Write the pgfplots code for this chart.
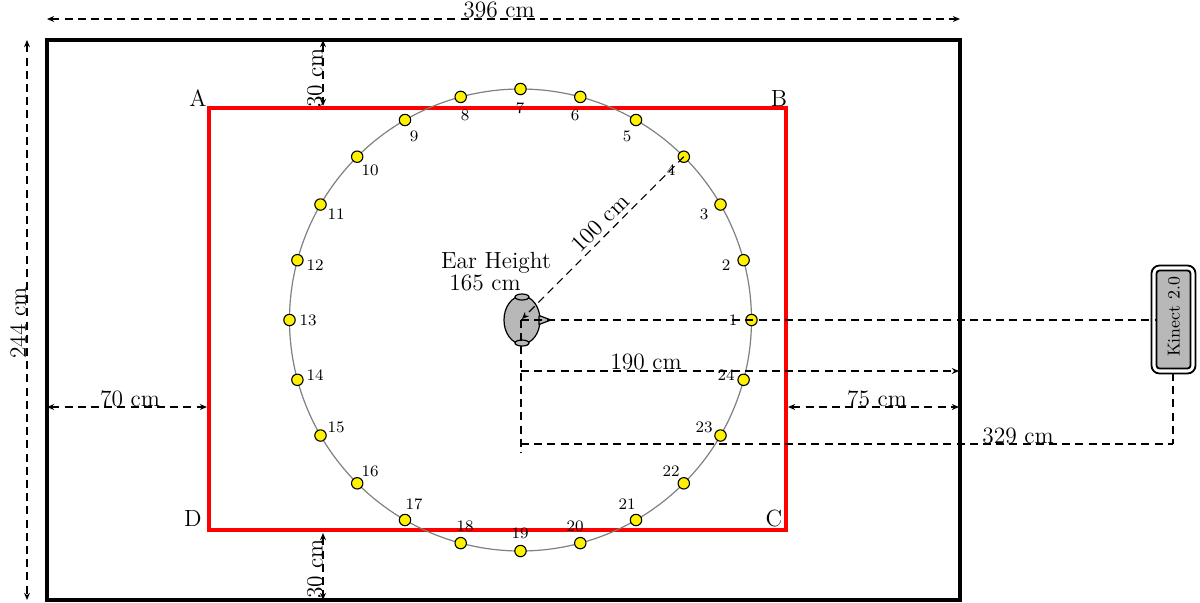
\documentclass[border=0pt]{standalone}
\usepackage{pgfplots}
\pgfplotsset{compat=1.18}
\usetikzlibrary{arrows.meta}
\tikzset{
  big/.style={nodes={font=\large, inner sep=0pt, scale=0.975}},
  small/.style={nodes={font=\footnotesize, inner sep=0pt}},
  dim/.style={black, line width=0.55pt, dash pattern=on 4pt off 2.6pt, >={Stealth[length=3.6pt,width=3pt,inset=1.2pt]}},
}
\begin{document}
\begin{tikzpicture}
\begin{axis}[
  scale only axis, width=600pt, height=301pt,
  xmin=0, xmax=1200, ymin=0, ymax=602, y dir=reverse,
  hide axis, clip=false, clip mode=individual,
]
\path (axis cs:0,0) rectangle (axis cs:1200,602);
% room
\addplot[black, line width=1.65pt, line cap=rect] coordinates {(47,40) (960,40) (960,600) (47,600) (47,40)};
% tracked area
\addplot[red, line width=1.6pt, line cap=rect] coordinates {(209,108) (786,108) (786,530) (209,530) (209,108)};
% circle of speakers
\addplot[black!50, line width=0.6pt, smooth cycle, tension=0.608] coordinates {
(751.5,320) (743.6,260.2) (720.5,204.5) (683.8,156.7) (636,120) (580.3,96.9)
(520.5,89) (460.7,96.9) (405,120) (357.2,156.7) (320.5,204.5) (297.4,260.2)
(289.5,320) (297.4,379.8) (320.5,435.5) (357.2,483.3) (405,520) (460.7,543.1)
(520.5,551) (580.3,543.1) (636,520) (683.8,483.3) (720.5,435.5) (743.6,379.8)};
\addplot[only marks, mark=*, mark size=2.85pt, mark options={fill=yellow, draw=black, line width=0.55pt}] coordinates {
(751.5,320) (743.6,260.2) (720.5,204.5) (683.8,156.7) (636,120) (580.3,96.9)
(520.5,89) (460.7,96.9) (405,120) (357.2,156.7) (320.5,204.5) (297.4,260.2)
(289.5,320) (297.4,379.8) (320.5,435.5) (357.2,483.3) (405,520) (460.7,543.1)
(520.5,551) (580.3,543.1) (636,520) (683.8,483.3) (720.5,435.5) (743.6,379.8)};
% head
\addplot[black, line width=0.6pt, fill=black!28, smooth cycle, tension=1] coordinates {(540,320) (522,344) (504,320) (522,296)};
\addplot[black, line width=0.6pt, fill=black!28, smooth cycle, tension=1] coordinates {(529,297) (522,300) (515,297) (522,294)};
\addplot[black, line width=0.6pt, fill=black!28, smooth cycle, tension=1] coordinates {(529,343) (522,346) (515,343) (522,340)};
\addplot[black, line width=0.6pt, fill=black!28] coordinates {(539,315.5) (551,320) (539,324.5) (539,315.5)};
% dimensions
\addplot[dim, <->] coordinates {(47,19) (960,19)};
\addplot[dim, <->] coordinates {(27,40) (27,600)};
\addplot[dim, <->] coordinates {(323,40) (323,106)};
\addplot[dim, <->] coordinates {(323,533) (323,600)};
\addplot[dim, <->] coordinates {(47,407) (207,407)};
\addplot[dim, <->] coordinates {(788,407) (959,407)};
\addplot[dim, ->] coordinates {(521,371) (959,371)};
\addplot[dim] coordinates {(521,444) (1173,444)};
\addplot[dim] coordinates {(1173,373) (1173,444)};
\addplot[dim] coordinates {(521,320) (521,453)};
\addplot[dim] coordinates {(521,320) (1155,320)};
\addplot[dim, ->] coordinates {(683.8,156.7) (522,319)};
% kinect
\draw[black, line width=0.9pt, rounded corners=4pt] (axis cs:1151.5,265.5) rectangle (axis cs:1195.5,373.5);
\draw[black, line width=0.9pt, fill=black!28, rounded corners=1.5pt] (axis cs:1156.5,270.5) rectangle (axis cs:1190.5,368.5);
% text
\path[big]
  (axis cs:499,10) node {396 cm}
  (axis cs:18,323) node[rotate=90] {244 cm}
  (axis cs:315,78) node[rotate=90] {30 cm}
  (axis cs:315,569) node[rotate=90] {30 cm}
  (axis cs:130,399) node {70 cm}
  (axis cs:877,399) node {75 cm}
  (axis cs:646,362) node {190 cm}
  (axis cs:1018,436) node {329 cm}
  (axis cs:600,223) node[rotate=45] {100 cm}
  (axis cs:496,263) node {Ear Height}
  (axis cs:485,283) node {165 cm}
  (axis cs:198,98) node {A}
  (axis cs:779,98) node {B}
  (axis cs:774,518) node {C}
  (axis cs:193,518) node {D};
\node[rotate=90, inner sep=0pt, font=\small, scale=0.96] at (axis cs:1174,317) {Kinect 2.0};
\path[small]
  (axis cs:733,320) node {1}
  (axis cs:726,265) node {2}
  (axis cs:704,214) node {3}
  (axis cs:671,170) node {4}
  (axis cs:627,136) node {5}
  (axis cs:575,115) node {6}
  (axis cs:520,108) node {7}
  (axis cs:465,115) node {8}
  (axis cs:414,136) node {9}
  (axis cs:370,170) node {10}
  (axis cs:336,214) node {11}
  (axis cs:315,265) node {12}
  (axis cs:308,320) node {13}
  (axis cs:315,375) node {14}
  (axis cs:336,427) node {15}
  (axis cs:370,471) node {16}
  (axis cs:414,504) node {17}
  (axis cs:465,526) node {18}
  (axis cs:520,533) node {19}
  (axis cs:575,526) node {20}
  (axis cs:627,504) node {21}
  (axis cs:671,471) node {22}
  (axis cs:704,427) node {23}
  (axis cs:726,375) node {24};
\end{axis}
\end{tikzpicture}
\end{document}
